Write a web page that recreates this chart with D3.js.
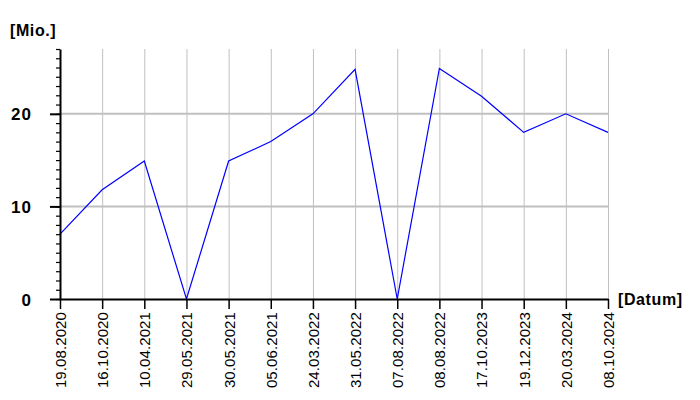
<!DOCTYPE html>
<html><head><meta charset="utf-8">
<script src="https://cdn.jsdelivr.net/npm/d3@7"></script>
<style>body{margin:0;background:#fff}svg{display:block}text{font-family:"Liberation Sans",Arial,sans-serif;fill:#000}</style>
</head><body><svg id="c" width="700" height="400"></svg>
<script>
const categories = ["19.08.2020","16.10.2020","10.04.2021","29.05.2021","30.05.2021","05.06.2021","24.03.2022","31.05.2022","07.08.2022","08.08.2022","17.10.2023","19.12.2023","20.03.2024","08.10.2024"];
const values = [7, 11.8, 14.9, 0, 14.9, 17, 20, 24.8, 0, 24.9, 21.9, 18, 20, 18];
const yMajorTicks = [0, 10, 20];
const yMinorTicks = d3.range(0, 28, 1);
const yLabel = "[Mio.]";
const xLabel = "[Datum]";

const svg = d3.select("#c");
const x = d3.scalePoint().domain(categories).range([60, 608]);
const y = d3.scaleLinear().domain([0, 27]).range([299, 49]);

// grid
const g = svg.append("g");
g.selectAll("line.v").data(categories.slice(1)).enter().append("line")
  .attr("x1", d => x(d) + 0.5).attr("x2", d => x(d) + 0.5)
  .attr("y1", y(27)).attr("y2", y(0))
  .attr("stroke", "#c0c0c0").attr("stroke-width", 1);
g.selectAll("line.h").data(yMajorTicks.slice(1)).enter().append("line")
  .attr("x1", 60).attr("x2", 608)
  .attr("y1", d => y(d)).attr("y2", d => y(d))
  .attr("stroke", "#c0c0c0").attr("stroke-width", 2);

// line
svg.append("path").datum(values)
  .attr("fill", "none").attr("stroke", "#0000ff").attr("stroke-width", 1.2)
  .attr("d", d3.line().x((d, i) => x(categories[i])).y(d => y(d)));

// y minor ticks
svg.append("g").attr("transform", "translate(60,0)")
  .call(d3.axisLeft(y).tickValues(yMinorTicks).tickSize(4).tickFormat(""))
  .call(a => a.select(".domain").remove())
  .selectAll("line").attr("stroke", "#000").attr("stroke-width", 1.2);

// y axis major
const ya = svg.append("g").attr("transform", "translate(60,0)")
  .call(d3.axisLeft(y).tickValues(yMajorTicks).tickSize(10).tickSizeOuter(0).tickPadding(18));
ya.select(".domain").attr("stroke", "#000").attr("stroke-width", 2);
ya.selectAll(".tick line").attr("stroke", "#000").attr("stroke-width", 2);
ya.selectAll("text").style("font-size", "17px").style("font-weight", "bold")
  .style("letter-spacing", "1px").attr("dy", "0.36em");

// x axis
const xa = svg.append("g").attr("transform", "translate(0,299)")
  .call(d3.axisBottom(x).tickSize(10).tickSizeOuter(0).tickPadding(0));
xa.select(".domain").attr("stroke", "#000").attr("stroke-width", 2);
xa.selectAll(".tick line").attr("stroke", "#000").attr("stroke-width", 1.5);
xa.selectAll("text")
  .attr("transform", "rotate(-90)")
  .attr("text-anchor", "end")
  .attr("x", -13).attr("y", 0).attr("dy", "0.36em")
  .style("font-size", "15px").style("letter-spacing", "0.1px");

svg.append("text").attr("x", 10).attr("y", 36).style("font-size", "16px")
  .style("font-weight", "bold").style("letter-spacing", "0.6px").text(yLabel);
svg.append("text").attr("x", 618).attr("y", 305).style("font-size", "16px")
  .style("font-weight", "bold").style("letter-spacing", "0.6px").text(xLabel);
</script></body></html>
